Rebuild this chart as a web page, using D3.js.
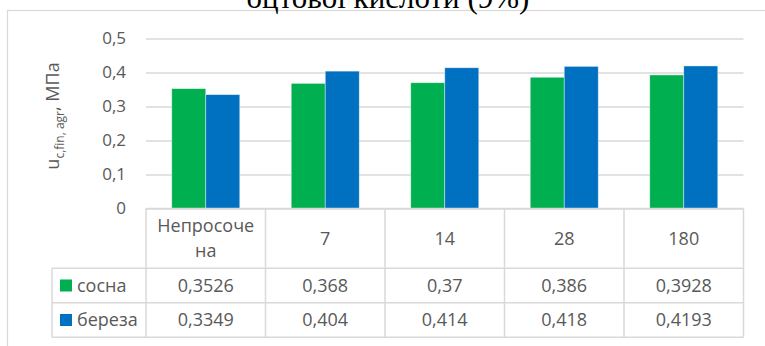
<!DOCTYPE html>
<html>
<head>
<meta charset="utf-8">
<script src="https://cdn.jsdelivr.net/npm/d3@7"></script>
<style>
  body { margin: 0; background: #fff; overflow: hidden; }
  svg { display: block; }
  text { font-family: "Open Sans", sans-serif; fill: #595959; }
</style>
</head>
<body>
<svg id="chart" width="765" height="346"></svg>
<script>
// chart data
var categories = ["Непросочена", "7", "14", "28", "180"]
var headerLines = [["Непросоче", "на"], ["7"], ["14"], ["28"], ["180"]]
var seriesNames = ["сосна", "береза"]
var sosna = [0.3526, 0.368, 0.37, 0.386, 0.3928]
var bereza = [0.3349, 0.404, 0.414, 0.418, 0.4193]
var yTicks = [0, 0.1, 0.2, 0.3, 0.4, 0.5]
var colors = ["#00B050", "#0070C0"]

function drawChart() {
  var svg = d3.select("#chart")

  // outer chart frame
  svg.append("rect")
    .attr("x", 7.5).attr("y", 10.5)
    .attr("width", 900).attr("height", 500)
    .attr("fill", "none")
    .attr("stroke", "#d9d9d9")
    .attr("stroke-width", 1.2)

  // title (cut off at the top in the original)
  svg.append("text")
    .attr("x", 388).attr("y", 8)
    .attr("text-anchor", "middle")
    .style("font-family", "'Liberation Serif', serif")
    .style("font-size", "31px")
    .style("fill", "#000")
    .text("оцтової кислоти (9%)")

  var plotL = 146, plotR = 743.5, plotT = 38.5, plotB = 208.5

  var y = d3.scaleLinear().domain([0, 0.5]).range([plotB, plotT])
  var x0 = d3.scaleBand().domain(categories).range([plotL, plotR]).padding(0)
  var x1 = d3.scaleBand().domain(seriesNames).range([0, x0.bandwidth()])
    .paddingInner(0).paddingOuter(0.757)

  var fmt = v => String(v).replace(".", ",")

  // y axis with gridlines
  var yAxisG = svg.append("g")
    .attr("transform", `translate(${plotL},0)`)
    .call(d3.axisLeft(y).tickValues(yTicks).tickSize(-(plotR - plotL)).tickPadding(20)
      .tickFormat(d => d === 0 ? "0" : d3.format(".1f")(d).replace(".", ",")))
  yAxisG.select(".domain").remove()
  yAxisG.selectAll(".tick line")
    .attr("stroke", "#d9d9d9")
    .attr("stroke-width", 1.3)
  yAxisG.selectAll(".tick text")
    .style("font-size", "17px")
    .style("font-family", "'Open Sans', sans-serif")
    .attr("fill", "#595959")

  // y axis title
  var yt = svg.append("text")
    .attr("transform", "translate(59,116) rotate(-90)")
    .attr("text-anchor", "middle")
    .style("font-size", "18px")
  yt.append("tspan").text("u")
  yt.append("tspan").attr("dy", 5).style("font-size", "12px").text("c,fin, agr")
  yt.append("tspan").attr("dy", -5).text(", МПа")

  // bars
  var rows = [sosna, bereza]
  var barsG = svg.append("g")
  seriesNames.forEach((s, si) => {
    barsG.selectAll(".bar-" + si)
      .data(rows[si])
      .enter()
      .append("rect")
      .attr("class", "bar-" + si)
      .attr("x", (d, i) => x0(categories[i]) + x1(s))
      .attr("y", d => y(d))
      .attr("width", x1.bandwidth())
      .attr("height", d => plotB - y(d))
      .attr("fill", colors[si])
      .attr("stroke", "#ffffff")
      .attr("stroke-opacity", 0.5)
      .attr("stroke-width", 0.8)
  })

  // data table under the axis
  var rowTops = [plotB, 268.3, 302.7, 337.3]
  var legLeft = 52
  var tableG = svg.append("g")
  var lineStyle = sel => sel.attr("stroke", "#d9d9d9").attr("stroke-width", 1.5)

  // horizontal lines
  tableG.append("line").attr("x1", plotL).attr("x2", plotR).attr("y1", rowTops[0]).attr("y2", rowTops[0]).call(lineStyle)
  rowTops.slice(1).forEach(r => {
    tableG.append("line").attr("x1", legLeft).attr("x2", plotR).attr("y1", r).attr("y2", r).call(lineStyle)
  })
  // vertical lines
  categories.forEach(c => {
    tableG.append("line").attr("x1", x0(c)).attr("x2", x0(c)).attr("y1", rowTops[0]).attr("y2", rowTops[3]).call(lineStyle)
  })
  tableG.append("line").attr("x1", plotR).attr("x2", plotR).attr("y1", rowTops[0]).attr("y2", rowTops[3]).call(lineStyle)
  tableG.append("line").attr("x1", legLeft).attr("x2", legLeft).attr("y1", rowTops[1]).attr("y2", rowTops[3]).call(lineStyle)

  // header labels
  categories.forEach((c, i) => {
    var lines = headerLines[i]
    var cy = (rowTops[0] + rowTops[1]) / 2
    lines.forEach((ln, li) => {
      tableG.append("text")
        .attr("x", x0(c) + x0.bandwidth() / 2)
        .attr("y", cy + (li - (lines.length - 1) / 2) * 25)
        .attr("dy", "0.35em")
        .attr("text-anchor", "middle")
        .style("font-size", "18px")
        .text(ln)
    })
  })

  // series rows
  seriesNames.forEach((s, si) => {
    var cy = (rowTops[si + 1] + rowTops[si + 2]) / 2
    tableG.append("rect")
      .attr("x", 60).attr("y", cy - 6)
      .attr("width", 12).attr("height", 12)
      .attr("fill", colors[si])
    tableG.append("text")
      .attr("x", 77).attr("y", cy).attr("dy", "0.35em")
      .style("font-size", "18px")
      .text(s)
    rows[si].forEach((v, i) => {
      tableG.append("text")
        .attr("x", x0(categories[i]) + x0.bandwidth() / 2)
        .attr("y", cy).attr("dy", "0.35em")
        .attr("text-anchor", "middle")
        .style("font-size", "18px")
        .text(fmt(v))
    })
  })
}
drawChart()
</script>
</body>
</html>
